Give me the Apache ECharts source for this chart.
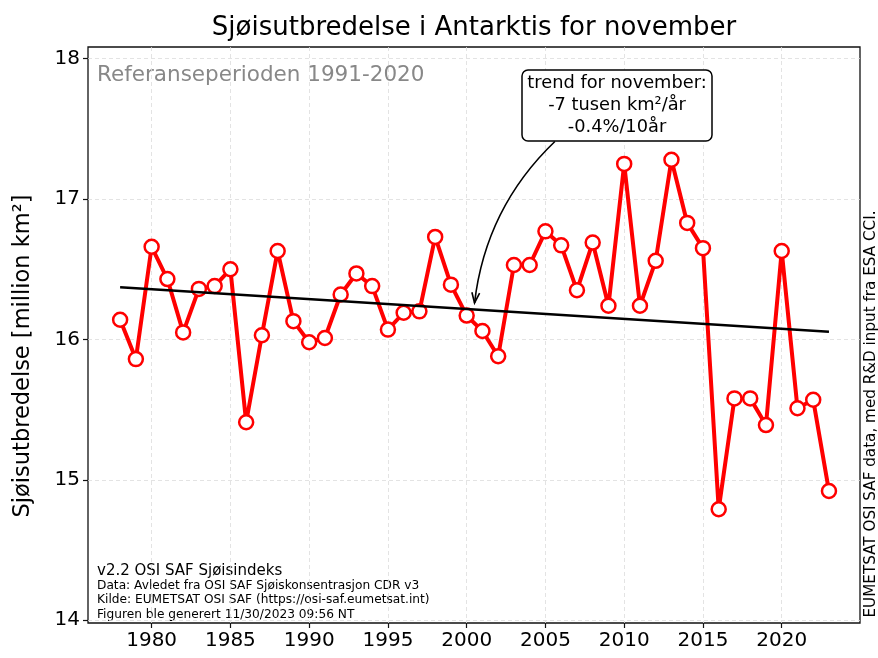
<!DOCTYPE html>
<html>
<head>
<meta charset="utf-8">
<script src="https://cdn.jsdelivr.net/npm/echarts@6/dist/echarts.min.js"></script>
<style>
  html, body { margin: 0; padding: 0; background: #fff; }
  #chart { width: 878px; height: 658px; }
</style>
</head>
<body>
<div id="chart"></div>
<script>
// årstall og sjøisutbredelse for november (million km2), lest av figuren
var years = [1978, 1979, 1980, 1981, 1982, 1983, 1984, 1985, 1986, 1987,
             1988, 1989, 1990, 1991, 1992, 1993, 1994, 1995, 1996, 1997,
             1998, 1999, 2000, 2001, 2002, 2003, 2004, 2005, 2006, 2007,
             2008, 2009, 2010, 2011, 2012, 2013, 2014, 2015, 2016, 2017,
             2018, 2019, 2020, 2021, 2022, 2023];
var extent = [16.14, 15.86, 16.66, 16.43, 16.05, 16.36, 16.38, 16.50, 15.41, 16.03,
              16.63, 16.13, 15.98, 16.01, 16.32, 16.47, 16.38, 16.07, 16.19, 16.20,
              16.73, 16.39, 16.17, 16.06, 15.88, 16.53, 16.53, 16.77, 16.67, 16.35,
              16.69, 16.24, 17.25, 16.24, 16.56, 17.28, 16.83, 16.65, 14.79, 15.58,
              15.58, 15.39, 16.63, 15.51, 15.57, 14.92];
// trendlinje
var trendYears = [1978, 2023];
var trendValues = [16.371, 16.055];
// akser
var xTicks = [1980, 1985, 1990, 1995, 2000, 2005, 2010, 2015, 2020];
var yTicks = [14, 15, 16, 17, 18];
// pil fra tekstboks til trendlinja (datakoordinater)
var arrowFrom = [2005.6, 17.41];
var arrowTo = [2000.5, 16.26];

var font = "DejaVu Sans";
var mychart = echarts.init(document.getElementById("chart"));

var lineData = years.map(function(y, i){ return [y, extent[i]]; });
var trendData = trendYears.map(function(y, i){ return [y, trendValues[i]]; });

var option = {
  backgroundColor: "#fff",
  animation: false,
  title: {
    text: "Sjøisutbredelse i Antarktis for november",
    left: 469,
    top: 10,
    textAlign: "center",
    textStyle: { fontFamily: font, fontSize: 26, fontWeight: "normal", color: "#000" }
  },
  grid: {
    left: 88, right: 18, top: 47, bottom: 35,
    show: true,
    borderColor: "#111",
    borderWidth: 1.3,
    backgroundColor: "#fff"
  },
  xAxis: {
    type: "value",
    min: 1975.96,
    max: 2024.97,
    axisLine: { show: false },
    axisTick: { show: true, length: 5, customValues: xTicks, lineStyle: { color: "#111", width: 1.2 } },
    axisLabel: {
      customValues: xTicks, margin: 8, fontFamily: font, fontSize: 20, color: "#000",
      formatter: function(v){ return String(v); }
    },
    splitLine: { show: true, lineStyle: { color: "#dcdcdc", type: [4, 3], width: 0.8 } }
  },
  yAxis: {
    type: "value",
    min: 13.98,
    max: 18.083,
    axisLine: { show: false },
    axisTick: { show: true, length: 5, customValues: yTicks, lineStyle: { color: "#111", width: 1.2 } },
    axisLabel: { customValues: yTicks, margin: 8, fontFamily: font, fontSize: 20, color: "#000" },
    splitLine: { show: true, lineStyle: { color: "#dcdcdc", type: [4, 3], width: 0.8 } }
  },
  series: [
    {
      name: "november",
      type: "line",
      data: lineData,
      symbol: "circle",
      symbolSize: 14,
      showAllSymbol: true,
      lineStyle: { color: "#f00", width: 4 },
      itemStyle: { color: "#fff", borderColor: "#f00", borderWidth: 2.5 },
      z: 3
    },
    {
      name: "trend",
      type: "line",
      data: trendData,
      symbol: "none",
      lineStyle: { color: "#000", width: 2.5 },
      z: 4
    }
  ],
  graphic: [
    {
      type: "text",
      x: 97, y: 75,
      style: { text: "Referanseperioden 1991-2020", fontFamily: font, fontSize: 21.5, fill: "#888", verticalAlign: "middle" }
    },
    {
      type: "text",
      x: 23, y: 356,
      rotation: Math.PI / 2,
      style: {
        text: "Sjøisutbredelse [million km²]",
        fontFamily: font, fontSize: 22.5, fill: "#000",
        align: "center", verticalAlign: "middle"
      }
    },
    {
      type: "text",
      x: 871, y: 414,
      rotation: Math.PI / 2,
      style: {
        text: "EUMETSAT OSI SAF data, med R&D input fra ESA CCI.",
        fontFamily: font, fontSize: 15.2, fill: "#000",
        align: "center", verticalAlign: "middle"
      }
    },
    {
      type: "text",
      x: 97, y: 571,
      style: { text: "v2.2 OSI SAF Sjøisindeks", fontFamily: font, fontSize: 15, fill: "#000", verticalAlign: "middle" }
    },
    {
      type: "text",
      x: 97, y: 600.3,
      style: {
        text: "Data: Avledet fra OSI SAF Sjøiskonsentrasjon CDR v3\nKilde: EUMETSAT OSI SAF (https://osi-saf.eumetsat.int)\nFiguren ble generert 11/30/2023 09:56 NT",
        fontFamily: font, fontSize: 12.2, lineHeight: 14.4, fill: "#000", verticalAlign: "middle"
      }
    },
    {
      type: "rect",
      shape: { x: 522, y: 70, width: 190, height: 71, r: 6 },
      style: { fill: "#fff", stroke: "#000", lineWidth: 1.5 },
      z: 10
    },
    {
      type: "text",
      x: 617, y: 105,
      style: {
        text: "trend for november:\n-7 tusen km²/år\n-0.4%/10år",
        fontFamily: font, fontSize: 17.8, lineHeight: 22, fill: "#000",
        align: "center", verticalAlign: "middle"
      },
      z: 11
    }
  ]
};
mychart.setOption(option);

// tegn pila etter at aksene er satt opp
var p0 = mychart.convertToPixel({ gridIndex: 0 }, arrowFrom);
var p2 = mychart.convertToPixel({ gridIndex: 0 }, arrowTo);
var dx = p2[0] - p0[0], dy = p2[1] - p0[1];
var rad = 0.18;
var c = [(p0[0] + p2[0]) / 2 - rad * dy, (p0[1] + p2[1]) / 2 + rad * dx];
var tx = p2[0] - c[0], ty = p2[1] - c[1];
var tl = Math.sqrt(tx * tx + ty * ty);
tx /= tl; ty /= tl;
var headLen = 11, ang = 0.36;
function rot(x, y, a){ return [x * Math.cos(a) - y * Math.sin(a), x * Math.sin(a) + y * Math.cos(a)]; }
var h1 = rot(-tx, -ty, ang), h2 = rot(-tx, -ty, -ang);

mychart.setOption({
  graphic: option.graphic.concat([
    {
      type: "bezierCurve",
      shape: { x1: p0[0], y1: p0[1], x2: p2[0], y2: p2[1], cpx1: c[0], cpy1: c[1] },
      style: { stroke: "#000", lineWidth: 1.6, fill: null },
      z: 9
    },
    {
      type: "polyline",
      shape: { points: [
        [p2[0] + h1[0] * headLen, p2[1] + h1[1] * headLen],
        [p2[0], p2[1]],
        [p2[0] + h2[0] * headLen, p2[1] + h2[1] * headLen]
      ] },
      style: { stroke: "#000", lineWidth: 1.6, fill: null },
      z: 9
    }
  ])
});
</script>
</body>
</html>
